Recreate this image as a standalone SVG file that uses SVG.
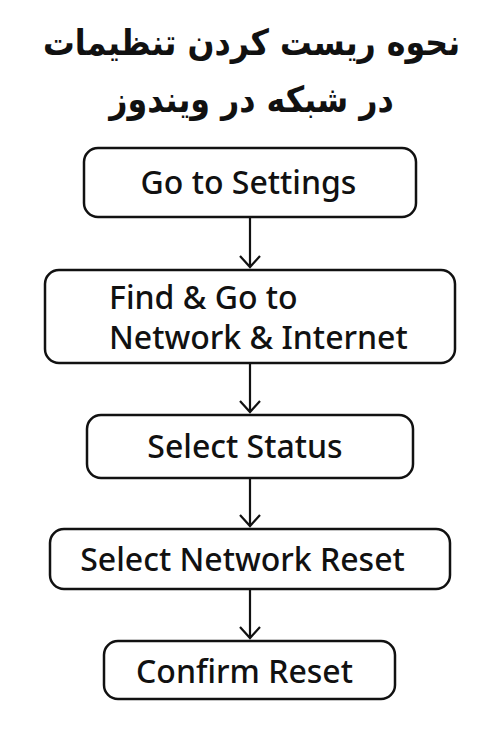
<svg xmlns="http://www.w3.org/2000/svg" width="500" height="750" viewBox="0 0 500 750">
<defs>
<style>
.box{fill:#fff;stroke:#111;stroke-width:2.5}
.lbl{font-family:"Noto Sans","Open Sans","DejaVu Sans",sans-serif;font-size:32px;fill:#111;font-weight:500}
.ttl{font-family:"DejaVu Sans","Noto Sans",sans-serif;font-size:36px;font-weight:bold;fill:#111}
.con{stroke:#111;stroke-width:2.2;fill:none}
</style>
</defs>
<rect width="500" height="750" fill="#fff"/>
<g id="title">
<text class="ttl" transform="translate(251.5 55) scale(0.88 1)" text-anchor="middle" direction="rtl">نحوه ریست کردن تنظیمات</text>
<text class="ttl" transform="translate(251.5 112) scale(0.88 1)" text-anchor="middle" direction="rtl">در شبکه در ویندوز</text>
</g>
<g id="connectors">
<path class="con" d="M250 218V266M240 256L250 267L260 256"/>
<path class="con" d="M250 363V412M240 401L250 412L260 401"/>
<path class="con" d="M250 478V526M240 515L250 526L260 515"/>
<path class="con" d="M250 589V638M240 627L250 638L260 627"/>
</g>
<g id="n1">
<rect class="box" x="84" y="148" width="332" height="69" rx="14"/>
<text class="lbl" x="248.5" y="194" text-anchor="middle">Go to Settings</text>
</g>
<g id="n2">
<rect class="box" x="45" y="270" width="410" height="93" rx="14"/>
<text class="lbl" x="109" y="309">Find &amp; Go to</text>
<text class="lbl" x="109" y="349">Network &amp; Internet</text>
</g>
<g id="n3">
<rect class="box" x="87" y="415" width="326" height="63" rx="14"/>
<text class="lbl" x="245" y="458" text-anchor="middle">Select Status</text>
</g>
<g id="n4">
<rect class="box" x="50" y="529" width="400" height="60" rx="14"/>
<text class="lbl" x="242.5" y="571" text-anchor="middle">Select Network Reset</text>
</g>
<g id="n5">
<rect class="box" x="104" y="641" width="291" height="58" rx="14"/>
<text class="lbl" x="244.5" y="683" text-anchor="middle">Confirm Reset</text>
</g>
</svg>
